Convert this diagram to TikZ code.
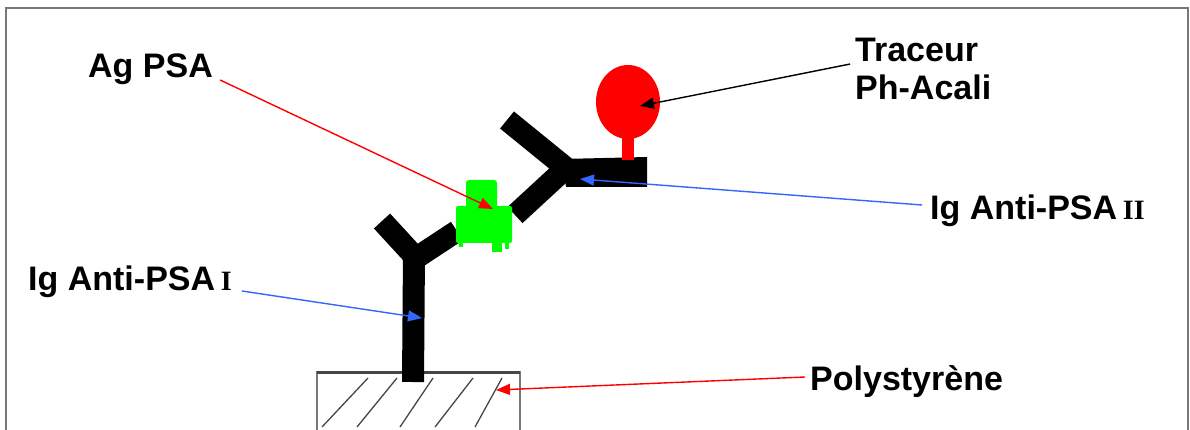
\documentclass[tikz,border=0pt]{standalone}
\usepackage{fontspec}
\setmainfont{Liberation Sans}
\newfontfamily\numfont{Liberation Serif}
\newcommand{\labnum}[1]{{\numfont\bfseries\fontsize{28}{30}\selectfont #1}}
\usetikzlibrary{arrows.meta,calc}
\definecolor{tagred}{RGB}{255,0,0}
\definecolor{linkblue}{RGB}{51,102,255}
\definecolor{antigen}{RGB}{0,255,0}
\definecolor{framegray}{RGB}{120,120,120}
\definecolor{hatchgray}{RGB}{70,70,70}

\begin{document}
\begin{tikzpicture}[x=1pt,y=-1pt,
  lbl/.style={font=\fontsize{34}{38}\selectfont\bfseries, inner sep=0pt, align=left},
  arm/.style={line width=22pt, black, line cap=butt, line join=miter},
  ptr/.style={line width=1.4pt, -{Triangle[length=14pt,width=11pt]}},
]
\useasboundingbox (0,0) rectangle (1190,430);
\clip (0,0) rectangle (1190,430);

% outer frame (open at the bottom)
\draw[framegray, line width=2pt] (6,440) -- (6,8) -- (1188,8) -- (1188,440);

% polystyrene support with hatching
\draw[framegray, line width=1.5pt] (317,440) -- (317,372) -- (520,372) -- (520,440);
\draw[hatchgray, line width=3pt] (317,372) -- (520,372);
\foreach \xa/\xb in {322/368, 357/397, 400/433, 435/473, 475/502}
  \draw[hatchgray, line width=1.3pt] (\xa,427) -- (\xb,378);

% capture antibody (Ig anti-PSA I)
\draw[arm] (413,382) -- (414,252);
\draw[arm] (382,221) -- (416,258) -- (457,231);

% detection antibody (Ig anti-PSA II)
\draw[arm] (507,120) -- (566,168) -- (515,215);
\fill[black] (562,159) -- (647,157) -- (647,187) -- (566,187) -- cycle;

% enzyme tracer
\fill[tagred] (622,132) rectangle (634,160);
\fill[tagred] (628,102) ellipse [x radius=32pt, y radius=37pt];

% PSA antigen
\fill[antigen, rounded corners=3pt] (466,180) rectangle (497,212);
\fill[antigen, rounded corners=2pt] (456,206) rectangle (512,243);
\fill[antigen] (492,240) rectangle (502,252);
\fill[antigen] (505,240) rectangle (509,249);
\fill[antigen] (459,240) rectangle (463,247);

% labels
\node[lbl, anchor=base west] (agpsa) at (88,78) {Ag PSA};
\node[lbl, anchor=north west] (tracer) at (855,38) {Traceur\\Ph-Acali};
\node[lbl, anchor=base west] (igtwo) at (930,220) {Ig Anti-PSA\,\labnum{II}};
\node[lbl, anchor=base west] (igone) at (28,290) {Ig Anti-PSA\,\labnum{I}};
\node[lbl, anchor=base west] (poly) at (810,390) {Polystyrène};

% pointer targets
\coordinate (agtip) at (493,209);
\coordinate (tracertip) at (640,106);
\coordinate (twotip) at (580,179);
\coordinate (onetip) at (422,318);
\coordinate (polytip) at (496,390);

% pointers
\draw[ptr, tagred] ($(agpsa.base east)+(7,2)$) -- (agtip);
\draw[ptr, black] ($(tracer.west)+(-5,-5)$) -- (tracertip);
\draw[ptr, linkblue] ($(igtwo.base west)+(-8,-15)$) -- (twotip);
\draw[ptr, linkblue] ($(igone.base east)+(10,1)$) -- (onetip);
\draw[ptr, tagred] ($(poly.base west)+(-5,-13)$) -- (polytip);
\end{tikzpicture}
\end{document}
